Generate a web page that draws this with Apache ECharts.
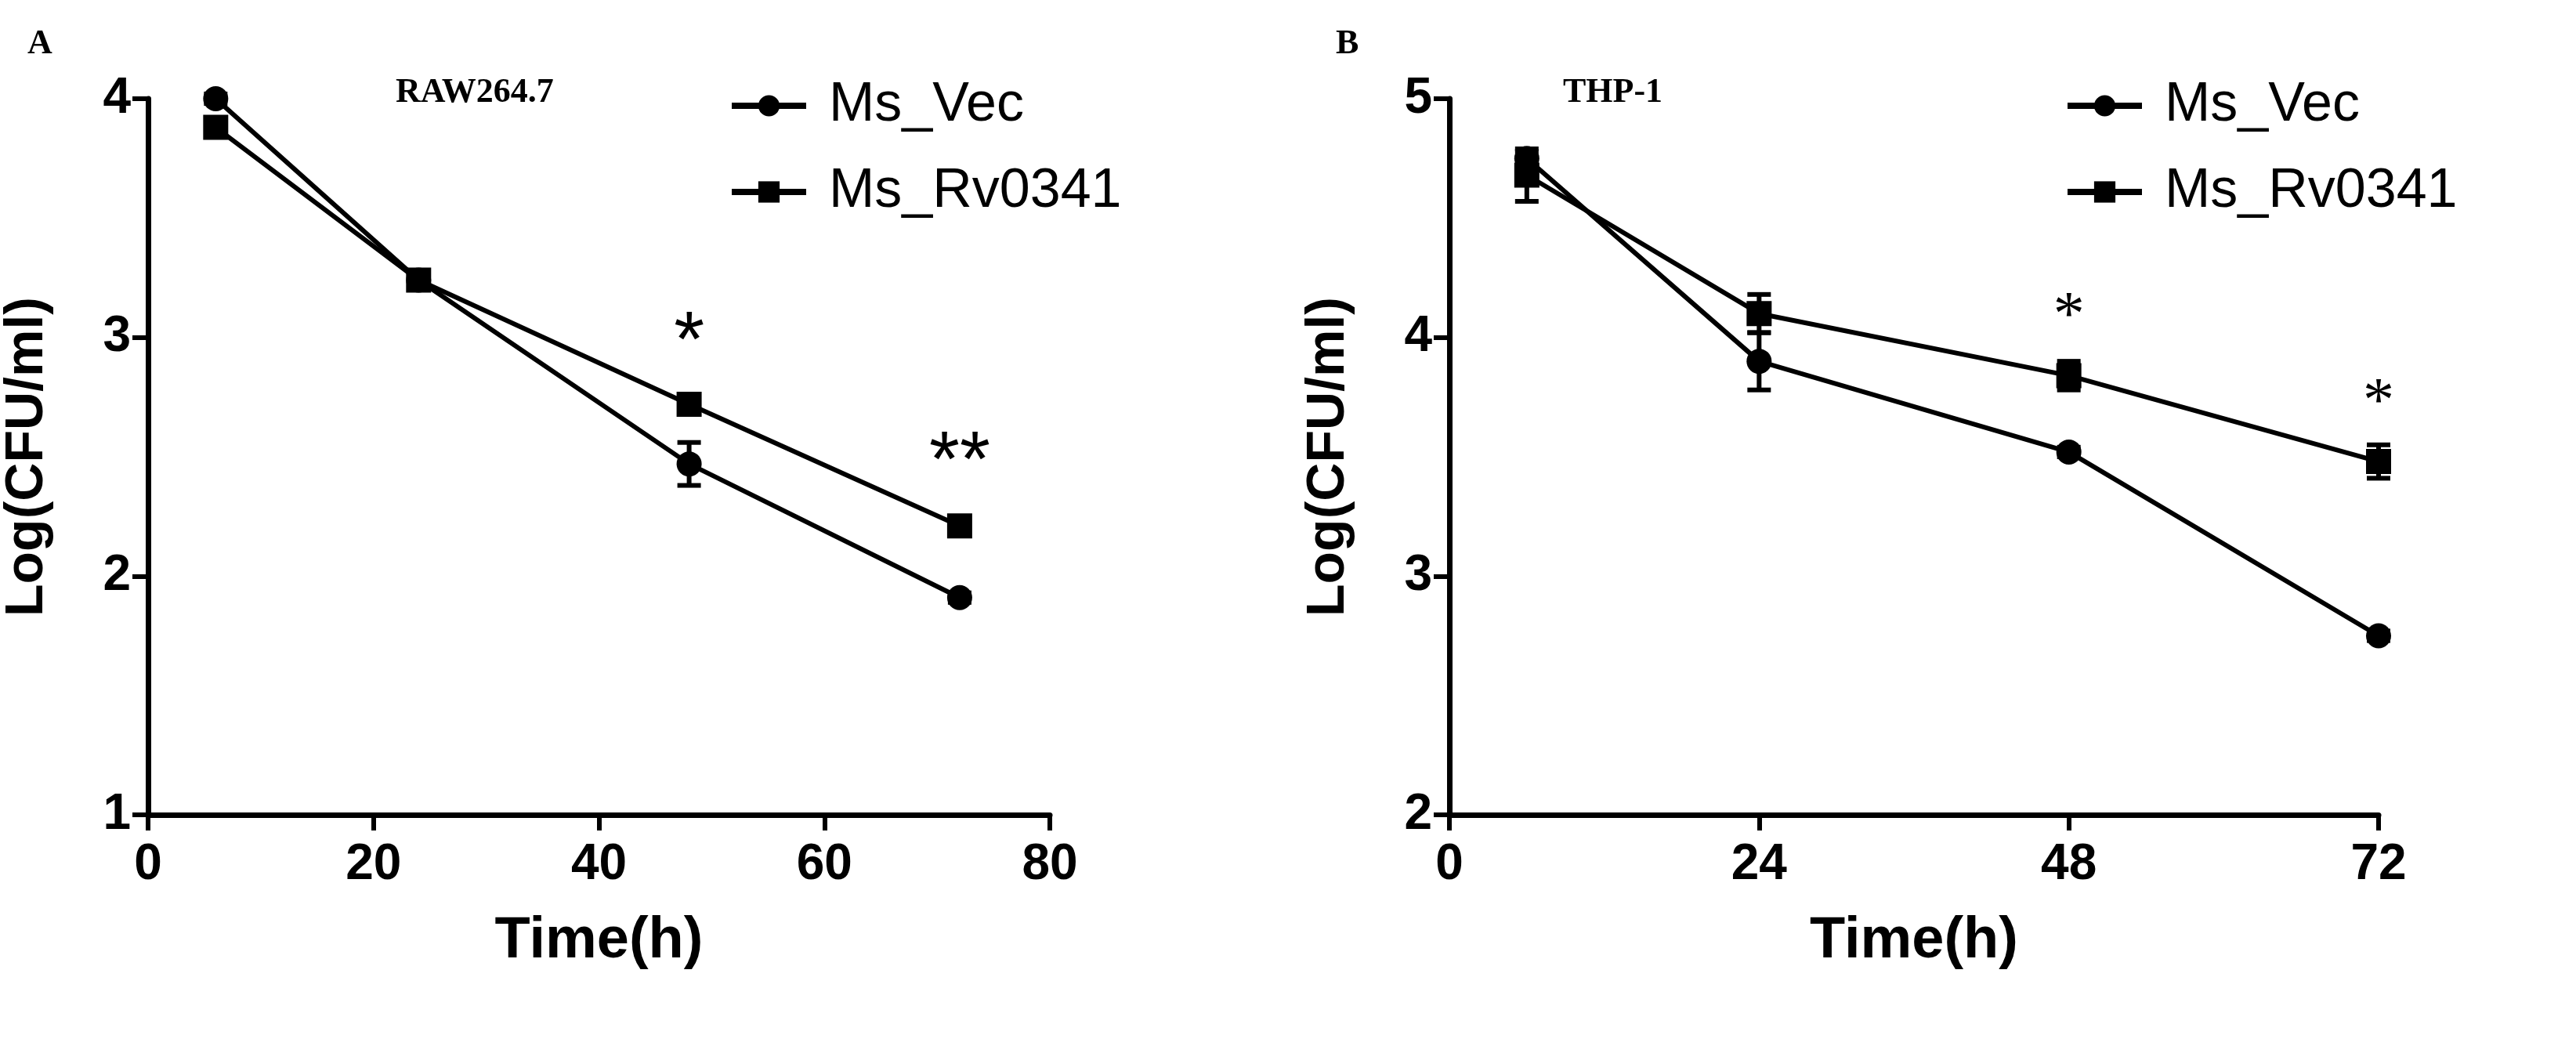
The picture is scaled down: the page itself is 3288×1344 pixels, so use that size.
<!DOCTYPE html>
<html>
<head>
<meta charset="utf-8">
<script src="https://cdn.jsdelivr.net/npm/echarts@6/dist/echarts.min.js"></script>
<style>html,body{margin:0;background:#fff}#main{width:3288px;height:1344px}</style>
</head>
<body>
<div id="main"></div>
<script>
var timesA = [6, 24, 48, 72];
var vecA = [4.0, 3.24, 2.47, 1.91];
var vecErrA = [0.02, 0.03, 0.09, 0.02];
var rvA = [3.88, 3.24, 2.72, 2.21];
var rvErrA = [0.03, 0.04, 0.03, 0.03];
var starsA = [[48, 2.97, '*'], [72, 2.47, '**']];

var timesB = [6, 24, 48, 72];
var vecB = [4.75, 3.9, 3.52, 2.75];
var vecErrB = [0.03, 0.12, 0.02, 0.02];
var rvB = [4.68, 4.1, 3.84, 3.48];
var rvErrB = [0.11, 0.08, 0.06, 0.07];
var starsB = [[48, 4.08, '*'], [72, 3.72, '*']];

var font = '"Liberation Sans Narrow", "Liberation Sans", Arial, sans-serif';
var myChart = echarts.init(document.getElementById('main'));

function pts(t, v) { return t.map(function (x, i) { return [x, v[i]]; }); }
function errs(t, v, e) { return t.map(function (x, i) { return [x, v[i] - e[i], v[i] + e[i]]; }); }

function errSeries(idx, data) {
  return {
    type: 'custom', xAxisIndex: idx, yAxisIndex: idx, silent: true, z: 3,
    renderItem: function (params, api) {
      var lo = api.coord([api.value(0), api.value(1)]);
      var hi = api.coord([api.value(0), api.value(2)]);
      var w = 15;
      var st = { stroke: '#000', lineWidth: 6 };
      return { type: 'group', children: [
        { type: 'line', shape: { x1: lo[0], y1: lo[1], x2: hi[0], y2: hi[1] }, style: st },
        { type: 'line', shape: { x1: lo[0] - w, y1: lo[1], x2: lo[0] + w, y2: lo[1] }, style: st },
        { type: 'line', shape: { x1: hi[0] - w, y1: hi[1], x2: hi[0] + w, y2: hi[1] }, style: st }
      ] };
    },
    data: data
  };
}

function starSeries(idx, data, size, fam) {
  return {
    type: 'custom', xAxisIndex: idx, yAxisIndex: idx, silent: true,
    renderItem: function (params, api) {
      var p = api.coord([api.value(0), api.value(1)]);
      return { type: 'text', x: p[0], y: p[1], style: {
        text: data[params.dataIndex][2], fontSize: size, fontFamily: fam,
        fill: '#000', align: 'center', verticalAlign: 'middle' } };
    },
    data: data
  };
}

function lineSeries(idx, name, data, symbol) {
  return {
    name: name, type: 'line', xAxisIndex: idx, yAxisIndex: idx, data: data,
    symbol: symbol, symbolSize: 32, z: 4,
    lineStyle: { color: '#000', width: 6 }, itemStyle: { color: '#000' }
  };
}

function xAx(idx, max, interval) {
  return {
    gridIndex: idx, type: 'value', min: 0, max: max, interval: interval,
    name: 'Time(h)', nameLocation: 'middle', nameGap: 125,
    nameTextStyle: { fontFamily: font, fontWeight: 'bold', fontSize: 74, color: '#000' },
    axisLine: { lineStyle: { color: '#000', width: 7 } },
    axisTick: { length: 20, lineStyle: { color: '#000', width: 6 } },
    axisLabel: { fontFamily: font, fontWeight: 'bold', fontSize: 64, color: '#000', margin: 32 },
    splitLine: { show: false }
  };
}
function yAx(idx, min, max) {
  return {
    gridIndex: idx, type: 'value', min: min, max: max, interval: 1,
    name: 'Log(CFU/ml)', nameLocation: 'middle', nameGap: 120,
    nameTextStyle: { fontFamily: 'Liberation Sans, Arial, sans-serif', fontWeight: 'bold', fontSize: 68, color: '#000' },
    axisLine: { lineStyle: { color: '#000', width: 7 } },
    axisTick: { length: 20, lineStyle: { color: '#000', width: 6 } },
    axisLabel: { fontFamily: font, fontWeight: 'bold', fontSize: 64, color: '#000', margin: 22 },
    splitLine: { show: false }
  };
}
function legend(left) {
  return {
    left: left, top: 95, orient: 'vertical', itemWidth: 95, itemHeight: 34, itemGap: 40,
    data: ['Ms_Vec', 'Ms_Rv0341'],
    lineStyle: { width: 8 },
    textStyle: { fontFamily: font, fontSize: 70, color: '#000', padding: [0, 0, 0, 24] }
  };
}

var tStyle = { fontFamily: 'Liberation Serif', fontWeight: 'bold', fontSize: 44, color: '#000' };
myChart.setOption({
  animation: false,
  title: [
    { text: 'A', left: 30, top: 30, textStyle: tStyle },
    { text: 'RAW264.7', left: 500, top: 92, textStyle: tStyle },
    { text: 'B', left: 1700, top: 30, textStyle: tStyle },
    { text: 'THP-1', left: 1990, top: 92, textStyle: tStyle }
  ],
  legend: [legend(925), legend(2630)],
  grid: [
    { left: 186, right: 1948, top: 126, bottom: 304 },
    { left: 1850, right: 252, top: 126, bottom: 304 }
  ],
  xAxis: [xAx(0, 80, 20), xAx(1, 72, 24)],
  yAxis: [yAx(0, 1, 4), yAx(1, 2, 5)],
  series: [
    lineSeries(0, 'Ms_Vec', pts(timesA, vecA), 'circle'),
    lineSeries(0, 'Ms_Rv0341', pts(timesA, rvA), 'rect'),
    errSeries(0, errs(timesA, vecA, vecErrA)),
    errSeries(0, errs(timesA, rvA, rvErrA)),
    starSeries(0, starsA, 100, 'Liberation Sans'),
    lineSeries(1, 'Ms_Vec', pts(timesB, vecB), 'circle'),
    lineSeries(1, 'Ms_Rv0341', pts(timesB, rvB), 'rect'),
    errSeries(1, errs(timesB, vecB, vecErrB)),
    errSeries(1, errs(timesB, rvB, rvErrB)),
    starSeries(1, starsB, 80, 'Liberation Serif')
  ]
});
</script>
</body>
</html>
